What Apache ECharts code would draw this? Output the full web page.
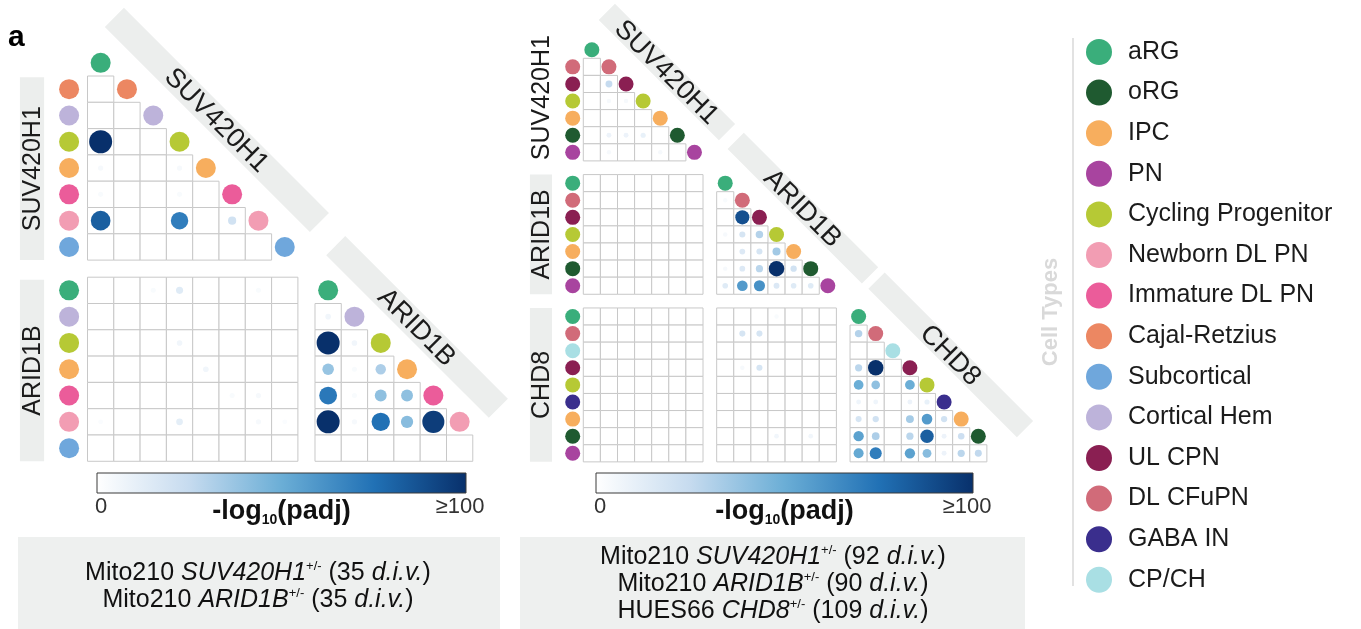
<!DOCTYPE html>
<html>
<head>
<meta charset="utf-8">
<script src="https://cdn.jsdelivr.net/npm/echarts@6/dist/echarts.min.js"></script>
<style>
html, body { margin: 0; padding: 0; background: #fff; }
#main { width: 1361px; height: 629px; }
</style>
</head>
<body>
<div id="main"></div>
<script>
// cell types and their colours (legend order)
var typeNames = ['aRG', 'oRG', 'IPC', 'PN', 'Cycling Progenitor', 'Newborn DL PN', 'Immature DL PN',
    'Cajal-Retzius', 'Subcortical', 'Cortical Hem', 'UL CPN', 'DL CFuPN', 'GABA IN', 'CP/CH'];
var typeColors = ['#3aae7b', '#1f5a30', '#f7ae5e', '#a8449f', '#b6c935', '#f29db3', '#eb5c9a',
    '#ec8762', '#6fa7dc', '#bdb3da', '#8a1f52', '#d16b79', '#3a2e8d', '#a9dfe4'];

// -log10(padj) colour ramp, 0 .. >=100
var rampColors = ['#ffffff', '#c6dbef', '#6baed6', '#2171b5', '#08306b'];

// 35 d.i.v. organoids
var leftSuvTypes = ['aRG', 'Cajal-Retzius', 'Cortical Hem', 'Cycling Progenitor', 'IPC', 'Immature DL PN', 'Newborn DL PN', 'Subcortical'];
var leftAridTypes = ['aRG', 'Cortical Hem', 'Cycling Progenitor', 'IPC', 'Immature DL PN', 'Newborn DL PN', 'Subcortical'];
var leftSuvTri = [
    [0],
    [0, 0],
    [100, 0, 0],
    [4, 0, 0, 4],
    [3, 0, 0, 3, 0],
    [82, 0, 0, 70, 0, 20],
    [0, 0, 0, 0, 0, 0, 0]
];
var leftAridVsSuv = [
    [0, 0, 3, 14, 0, 0, 3, 0],
    [0, 0, 0, 0, 0, 0, 0, 0],
    [0, 0, 0, 6, 0, 0, 0, 0],
    [0, 0, 0, 0, 6, 0, 0, 0],
    [0, 0, 0, 0, 0, 3, 4, 0],
    [2, 0, 0, 12, 0, 0, 4, 2],
    [0, 0, 0, 0, 0, 0, 0, 0]
];
var leftAridTri = [
    [6],
    [100, 6],
    [38, 3, 32],
    [72, 3, 40, 40],
    [100, 4, 75, 42, 95],
    [0, 0, 0, 0, 0, 0]
];

// 90-109 d.i.v. organoids
var rightTypes = ['aRG', 'DL CFuPN', 'UL CPN', 'Cycling Progenitor', 'IPC', 'oRG', 'PN'];
var rightChdTypes = ['aRG', 'DL CFuPN', 'CP/CH', 'UL CPN', 'Cycling Progenitor', 'GABA IN', 'IPC', 'oRG', 'PN'];
var rightSuvTri = [
    [0],
    [0, 25],
    [0, 4, 4],
    [0, 0, 0, 0],
    [0, 8, 8, 10, 0],
    [0, 4, 0, 0, 4, 0]
];
var rightAridVsSuv = [
    [0, 0, 0, 0, 0, 0, 0],
    [0, 0, 0, 0, 0, 0, 0],
    [0, 0, 0, 0, 0, 0, 0],
    [0, 0, 0, 0, 0, 0, 0],
    [0, 0, 0, 0, 0, 0, 0],
    [0, 0, 0, 0, 0, 0, 0],
    [0, 0, 0, 0, 0, 0, 0]
];
var rightAridTri = [
    [3],
    [0, 88],
    [4, 18, 30],
    [0, 15, 18, 35],
    [4, 15, 28, 100, 20],
    [14, 58, 62, 16, 14, 14]
];
var rightChdVsSuv = [
    [0, 0, 0, 0, 0, 0, 0],
    [0, 0, 0, 0, 0, 0, 0],
    [0, 0, 0, 0, 0, 0, 0],
    [0, 0, 0, 0, 0, 0, 0],
    [0, 0, 0, 0, 0, 0, 0],
    [0, 0, 0, 0, 0, 0, 0],
    [0, 0, 0, 0, 0, 0, 0],
    [0, 0, 0, 0, 0, 0, 0],
    [0, 0, 0, 0, 0, 0, 0]
];
var rightChdVsArid = [
    [0, 0, 0, 3, 0, 0, 0],
    [0, 18, 18, 0, 0, 0, 0],
    [0, 0, 0, 0, 0, 0, 0],
    [0, 4, 18, 0, 0, 0, 0],
    [0, 0, 0, 0, 0, 0, 0],
    [0, 0, 0, 0, 0, 0, 0],
    [0, 0, 0, 0, 0, 0, 0],
    [0, 0, 0, 6, 0, 6, 0],
    [0, 0, 0, 0, 0, 0, 0]
];
var rightChdTri = [
    [30],
    [0, 0],
    [28, 100, 0],
    [50, 40, 0, 50],
    [7, 7, 0, 8, 10],
    [18, 20, 0, 34, 58, 20],
    [55, 32, 0, 28, 82, 8, 22],
    [52, 70, 0, 55, 42, 8, 28, 26]
];

var fontName = 'Liberation Sans, Arial, Helvetica, sans-serif';

// panel geometry: cell size in px and where data (0,0) sits
var panels = [
    { cell: 26.3, ox: 87.5, oy: 49.7, xMin: -3, xMax: 16, yMin: -1, yMax: 16, labelX: -0.7, labelSize: 20, dotSize: [4.5, 23], bandW: 27 },
    { cell: 17.1, ox: 583.3, oy: 41.2, xMin: -4, xMax: 26, yMin: -2, yMax: 25, labelX: -0.62, labelSize: 15, dotSize: [4, 15.5], bandW: 23 }
];

var blocks = [
    [
        { kind: 'tri', values: leftSuvTri, types: leftSuvTypes, x0: 0, y0: 0, rowLabels: true, lastDiag: true },
        { kind: 'rect', values: leftAridVsSuv, types: leftAridTypes, x0: 0, y0: 8.65, rowLabels: true },
        { kind: 'tri', values: leftAridTri, types: leftAridTypes, x0: 8.65, y0: 8.65, rowLabels: false, lastDiag: false }
    ],
    [
        { kind: 'tri', values: rightSuvTri, types: rightTypes, x0: 0, y0: 0, rowLabels: true, lastDiag: true },
        { kind: 'rect', values: rightAridVsSuv, types: rightTypes, x0: 0, y0: 7.8, rowLabels: true },
        { kind: 'tri', values: rightAridTri, types: rightTypes, x0: 7.8, y0: 7.8, rowLabels: false, lastDiag: true },
        { kind: 'rect', values: rightChdVsSuv, types: rightChdTypes, x0: 0, y0: 15.6, rowLabels: true },
        { kind: 'rect', values: rightChdVsArid, types: rightChdTypes, x0: 7.8, y0: 15.6, rowLabels: false },
        { kind: 'tri', values: rightChdTri, types: rightChdTypes, x0: 15.6, y0: 15.6, rowLabels: false, lastDiag: false }
    ]
];

// gene labels: diagonal bands and vertical bands
var bands = [
    [
        { kind: 'diag', text: 'SUV420H1', x: 4.92, y: 2.67, len: 290, size: 27 },
        { kind: 'diag', text: 'ARID1B', x: 12.53, y: 10.54, len: 230, size: 27 },
        { kind: 'vert', text: 'SUV420H1', x1: -2.57, x2: -1.65, y1: 1.05, y2: 8, size: 25, fill: true },
        { kind: 'vert', text: 'ARID1B', x1: -2.57, x2: -1.65, y1: 8.75, y2: 15.65, size: 25, fill: true }
    ],
    [
        { kind: 'diag', text: 'SUV420H1', x: 4.89, y: 1.8, len: 170, size: 27 },
        { kind: 'diag', text: 'ARID1B', x: 12.84, y: 9.76, len: 190, size: 27 },
        { kind: 'diag', text: 'CHD8', x: 21.49, y: 18.35, len: 210, size: 27 },
        { kind: 'vert', text: 'SUV420H1', x1: -3.12, x2: -1.83, y1: -0.3, y2: 6.9, size: 25, fill: false },
        { kind: 'vert', text: 'ARID1B', x1: -3.12, x2: -1.83, y1: 7.8, y2: 14.8, size: 25, fill: true },
        { kind: 'vert', text: 'CHD8', x1: -3.12, x2: -1.83, y1: 15.6, y2: 24.6, size: 25, fill: true }
    ]
];

function buildPanel(p, panelBlocks) {
    var cells = [], dots = [], labels = {};
    typeNames.forEach(function (n) { labels[n] = []; });

    function addCell(x, y, v) {
        cells.push([x, y]);
        if (v > 0) {
            dots.push([x + 0.5, y + 0.5, v]);
        }
    }

    panelBlocks.forEach(function (b) {
        b.types.forEach(function (t, i) {
            if (b.kind === 'tri') {
                if (i > 0) {
                    b.values[i - 1].forEach(function (v, j) { addCell(b.x0 + j, b.y0 + i, v); });
                    if (b.rowLabels) labels[t].push([p.labelX, b.y0 + i + 0.5]);
                }
                if (i < b.types.length - 1 || b.lastDiag) {
                    labels[t].push([b.x0 + i + 0.5, b.y0 + i + 0.5]);
                }
            } else {
                b.values[i].forEach(function (v, j) { addCell(b.x0 + j, b.y0 + i, v); });
                if (b.rowLabels) labels[t].push([p.labelX, b.y0 + i + 0.5]);
            }
        });
    });
    return { cells: cells, dots: dots, labels: labels };
}

function renderCell(params, api) {
    var x = api.value(0), y = api.value(1);
    var a = api.coord([x, y]);
    var b = api.coord([x + 1, y + 1]);
    return {
        type: 'rect',
        shape: { x: a[0], y: a[1], width: b[0] - a[0], height: b[1] - a[1] },
        style: { fill: '#ffffff', stroke: '#c8c8c8', lineWidth: 1 }
    };
}

function bandRenderer(list, p) {
    return function (params, api) {
        var b = list[params.dataIndex];
        if (b.kind === 'diag') {
            var c = api.coord([b.x, b.y]);
            return {
                type: 'group', x: c[0], y: c[1], rotation: -Math.PI / 4,
                children: [
                    { type: 'rect', shape: { x: -b.len / 2, y: -p.bandW / 2, width: b.len, height: p.bandW }, style: { fill: '#eceeed' } },
                    { type: 'text', style: { text: b.text, x: 0, y: 1, align: 'center', verticalAlign: 'middle', fontSize: b.size, fontFamily: fontName, fill: '#1b1b1b' } }
                ]
            };
        }
        var a = api.coord([b.x1, b.y1]);
        var d = api.coord([b.x2, b.y2]);
        var children = [];
        if (b.fill) {
            children.push({ type: 'rect', shape: { x: a[0], y: a[1], width: d[0] - a[0], height: d[1] - a[1] }, style: { fill: '#eceeed' } });
        }
        children.push({
            type: 'text', x: (a[0] + d[0]) / 2 + 1, y: (a[1] + d[1]) / 2, rotation: Math.PI / 2,
            style: { text: b.text, x: 0, y: 0, align: 'center', verticalAlign: 'middle', fontSize: b.size, fontFamily: fontName, fill: '#1b1b1b' }
        });
        return { type: 'group', children: children };
    };
}

var grids = [], xAxes = [], yAxes = [], series = [], dotSeriesIdx = [];

panels.forEach(function (p, k) {
    grids.push({
        left: p.ox + p.xMin * p.cell,
        top: p.oy + p.yMin * p.cell,
        width: (p.xMax - p.xMin) * p.cell,
        height: (p.yMax - p.yMin) * p.cell
    });
    xAxes.push({ type: 'value', gridIndex: k, min: p.xMin, max: p.xMax, show: false });
    yAxes.push({ type: 'value', gridIndex: k, min: p.yMin, max: p.yMax, inverse: true, show: false });

    var built = buildPanel(p, blocks[k]);

    series.push({
        type: 'custom', xAxisIndex: k, yAxisIndex: k, z: 1, silent: true,
        renderItem: bandRenderer(bands[k], p),
        data: bands[k].map(function () { return [0, 0]; })
    });
    series.push({
        type: 'custom', xAxisIndex: k, yAxisIndex: k, z: 2, silent: true,
        renderItem: renderCell,
        data: built.cells
    });
    dotSeriesIdx.push(series.length);
    series.push({
        type: 'scatter', xAxisIndex: k, yAxisIndex: k, z: 3, silent: true,
        symbol: 'circle',
        itemStyle: { opacity: 1 },
        data: built.dots
    });
    typeNames.forEach(function (name, i) {
        series.push({
            name: name, type: 'scatter', xAxisIndex: k, yAxisIndex: k, z: 3, silent: true,
            symbol: 'circle', symbolSize: p.labelSize,
            itemStyle: { color: typeColors[i], opacity: 1 },
            data: built.labels[name]
        });
    });
});

function colorBar(x, w, y) {
    var stops = rampColors.map(function (c, i) { return { offset: i / (rampColors.length - 1), color: c }; });
    return [
        { type: 'rect', shape: { x: x, y: y, width: w, height: 20 }, style: { fill: new echarts.graphic.LinearGradient(0, 0, 1, 0, stops), stroke: '#3a3a3a', lineWidth: 1 } },
        { type: 'text', x: x + 4, y: y + 34, style: { text: '0', align: 'center', verticalAlign: 'middle', fontSize: 22, fontFamily: fontName, fill: '#333' } },
        { type: 'text', x: x + w - 6, y: y + 34, style: { text: '≥100', align: 'center', verticalAlign: 'middle', fontSize: 22, fontFamily: fontName, fill: '#333' } },
        {
            type: 'text', x: x + w / 2, y: y + 39,
            style: {
                text: '{b|-log}{s|10}{b|(padj)}', align: 'center', verticalAlign: 'middle', fontFamily: fontName, fill: '#111',
                rich: {
                    b: { fontSize: 27, fontWeight: 'bold', fontFamily: fontName, lineHeight: 30 },
                    s: { fontSize: 14, fontWeight: 'bold', fontFamily: fontName, verticalAlign: 'bottom', lineHeight: 14 }
                }
            }
        }
    ];
}

var captionRich = {
    n: { fontSize: 25, fontFamily: fontName, fill: '#111' },
    i: { fontSize: 25, fontFamily: fontName, fontStyle: 'italic', fill: '#111' },
    s: { fontSize: 13, fontFamily: fontName, verticalAlign: 'top', lineHeight: 26, fill: '#111' }
};

function caption(x, y, gene, line, div) {
    return {
        type: 'text', x: x, y: y,
        style: {
            text: '{n|' + line + ' }{i|' + gene + '}{s|+/-}{n| (' + div + ' }{i|d.i.v.}{n|)}',
            align: 'center', verticalAlign: 'middle', rich: captionRich
        }
    };
}

var graphics = [
    { type: 'text', x: 8, y: 38, style: { text: 'a', fontSize: 30, fontWeight: 'bold', fontFamily: fontName, verticalAlign: 'middle', fill: '#000' } },
    { type: 'rect', shape: { x: 18, y: 537, width: 482, height: 92 }, style: { fill: '#eef0ef' } },
    { type: 'rect', shape: { x: 520, y: 537, width: 505, height: 92 }, style: { fill: '#eef0ef' } },
    caption(258, 573, 'SUV420H1', 'Mito210', '35'),
    caption(258, 600, 'ARID1B', 'Mito210', '35'),
    caption(773, 557, 'SUV420H1', 'Mito210', '92'),
    caption(773, 584, 'ARID1B', 'Mito210', '90'),
    caption(773, 611, 'CHD8', 'HUES66', '109'),
    { type: 'line', shape: { x1: 1073, y1: 38, x2: 1073, y2: 586 }, style: { stroke: '#e2e2e2', lineWidth: 2 } },
    { type: 'text', x: 1051, y: 312, rotation: Math.PI / 2, style: { text: 'Cell Types', align: 'center', verticalAlign: 'middle', fontSize: 22, fontWeight: 'bold', fontFamily: fontName, fill: '#d9d9d9' } }
].concat(colorBar(97, 369, 473), colorBar(596, 377, 473));

var chart = echarts.init(document.getElementById('main'));
chart.setOption({
    animation: false,
    grid: grids,
    xAxis: xAxes,
    yAxis: yAxes,
    visualMap: panels.map(function (p, k) {
        return {
            type: 'continuous', show: false, min: 0, max: 100, dimension: 2,
            seriesIndex: dotSeriesIdx[k],
            inRange: { color: rampColors, symbolSize: p.dotSize }
        };
    }),
    legend: {
        data: typeNames,
        orient: 'vertical',
        left: 1081,
        top: 34,
        icon: 'circle',
        itemWidth: 48,
        itemHeight: 26,
        itemGap: 14.6,
        selectedMode: false,
        itemStyle: { opacity: 1 },
        textStyle: { fontFamily: fontName, fontSize: 25, color: '#1b1b1b', lineHeight: 26 }
    },
    graphic: graphics,
    series: series
});
</script>
</body>
</html>
